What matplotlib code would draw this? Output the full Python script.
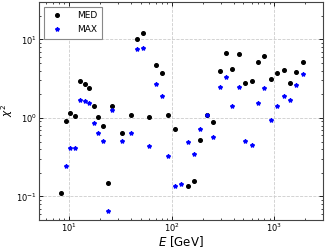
import numpy as np
import matplotlib
matplotlib.use("Agg")
import matplotlib.pyplot as plt

energy = [8.36, 9.3, 10.3, 11.4, 12.8, 14.2, 15.8, 17.5, 19.3, 21.4, 23.8, 26.2,
          32.6, 40.2, 45.6, 52.0, 60.5, 69.8, 80.5, 92.7, 107, 124, 143, 165, 190,
          219, 254, 293, 338, 389, 449, 521, 601, 687, 798, 921, 1060, 1232, 1420,
          1635, 1887]
chi2_med = [0.111, 0.916, 1.16, 1.06, 2.97, 2.74, 2.44, 1.40, 1.03, 0.79, 0.149, 1.43,
            0.646, 1.08, 10.1, 12.0, 1.03, 4.77, 3.74, 1.08, 0.718, np.nan, 0.136, 0.158, 0.516,
            1.08, 0.88, 3.97, 6.65, 4.17, 6.51, 2.82, 2.99, 5.12, 6.15, 3.17, 3.78, 4.05, 2.82,
            3.86, 5.16]
chi2_max = [np.nan, 0.244, 0.417, 0.417, 1.69, 1.62, 1.56, 0.86, 0.646, 0.506, 0.065, 1.27,
            0.506, 0.633, 7.54, 7.83, 0.437, 2.69, 1.88, 0.327, 0.135, 0.142, 0.497, 0.343, 0.726,
            1.10, 0.563, 2.49, 3.30, 1.40, 2.51, 0.506, 0.45, 1.56, 2.44, 0.93, 1.40, 1.93, 1.67,
            2.66, 3.67]

fig = plt.figure(figsize=(3.25, 2.5), dpi=100)
ax = fig.add_axes([0.12, 0.12, 0.874, 0.872])

ax.plot(energy, chi2_med, 'o', color='black', markersize=2.6, label='MED', zorder=3)
ax.plot(energy, chi2_max, '*', color='blue', markersize=3, label='MAX', zorder=3)

ax.set_xscale('log')
ax.set_yscale('log')
ax.set_xlim(5.1, 2980)
ax.set_ylim(0.05, 30)

ax.grid(True, which='major', linestyle='--', color='#cccccc', linewidth=0.6)
ax.tick_params(which='both', direction='in', top=True, right=True, labelsize=6, pad=1.5)
ax.tick_params(which='major', length=3, width=0.6)
ax.tick_params(which='minor', length=1.5, width=0.5)
for s in ax.spines.values():
    s.set_color('#444444')
    s.set_linewidth(0.8)

ax.set_xlabel('$E$ [GeV]', fontsize=8.5, labelpad=0)
ax.set_ylabel('$\\chi^2$', fontsize=7.5)
ax.yaxis.set_label_coords(-0.085, 0.5)

leg = ax.legend(loc='upper left', fontsize=6.5, fancybox=False, edgecolor='#888888',
                framealpha=1, handletextpad=1.2, borderpad=0.5, labelspacing=0.6)
leg.get_frame().set_linewidth(0.8)

fig.savefig('out.png', dpi=100)
